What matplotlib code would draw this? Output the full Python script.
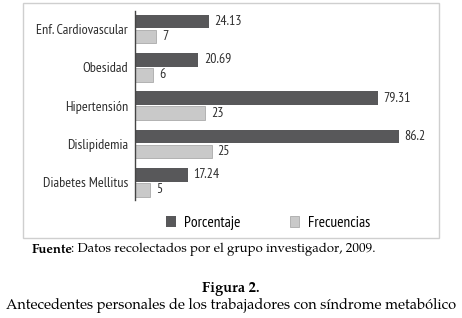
import numpy as np
import matplotlib
matplotlib.use("Agg")
import matplotlib.pyplot as plt
from matplotlib.patches import Rectangle

# Datos
categorias = ["Enf. Cardiovascular", "Obesidad", "Hipertensión", "Dislipidemia", "Diabetes Mellitus"]
porcentaje = [24.13, 20.69, 79.31, 86.2, 17.24]
frecuencias = [7, 6, 23, 25, 5]
etiq_porc = ["24.13", "20.69", "79.31", "86.2", "17.24"]
etiq_frec = ["7", "6", "23", "25", "5"]

W, H = 462, 318
sans = ["PT Sans Narrow", "Fira Sans Condensed", "DejaVu Sans"]
serif = ["TeX Gyre Pagella", "P052", "URW Palladio L", "Palatino Linotype", "DejaVu Serif"]
c_dark = "#58585a"
c_light = "#c9c9c9"
c_txt = "#2e2e2e"

fig = plt.figure(figsize=(W / 100, H / 100), dpi=100)

# marco gris alrededor del grafico
fig.add_artist(Rectangle((23 / W, 1 - 238 / H), (439 - 23) / W, (238 - 3) / H,
                         transform=fig.transFigure, fill=False, ec="#cfcfcf", lw=1))

ax = fig.add_axes([135 / W, 1 - 200 / H, 306 / W, 189 / H])
y = np.arange(len(categorias))
h = 0.36
b1 = ax.barh(y - 0.195, porcentaje, height=h, color=c_dark, label="Porcentaje")
b2 = ax.barh(y + 0.195, frecuencias, height=h, color=c_light, ec="#aaaaaa", lw=0.6,
             label="Frecuencias")
ax.bar_label(b1, labels=etiq_porc, padding=4, fontsize=10, family=sans, color=c_txt)
ax.bar_label(b2, labels=etiq_frec, padding=4, fontsize=10, family=sans, color=c_txt)

ax.set_xlim(0, 100)
ax.set_ylim(4.46, -0.47)
ax.set_yticks(y)
ax.set_yticklabels(categorias, fontsize=10.2, family=sans, color=c_txt)
ax.tick_params(axis="y", length=0, pad=5)
ax.set_xticks([])
for s in ["top", "right", "bottom"]:
    ax.spines[s].set_visible(False)
ax.spines["left"].set_color("#444444")
ax.spines["left"].set_linewidth(1)

fig.legend(handles=[b1, b2], loc="center", bbox_to_anchor=(268 / W, 1 - 223 / H),
           ncol=2, frameon=False, handlelength=0.65, handleheight=0.65,
           columnspacing=3.2, handletextpad=0.55, prop={"family": sans, "size": 11})

# textos de pie
t1 = fig.text(32 / W, 1 - 250 / H, "Fuente", family=serif, weight="bold",
              fontsize=9.5, va="center", ha="left")
ax.annotate(": Datos recolectados por el grupo investigador, 2009.", xy=(1, 0),
            xycoords=t1, xytext=(-2, 0), textcoords="offset pixels",
            va="bottom", ha="left", family=serif, fontsize=9.5,
            annotation_clip=False)
fig.text(0.5, 1 - 289 / H, "Figura 2.", family=serif, weight="bold", fontsize=10.5,
         ha="center", va="center")
fig.text(0.5, 1 - 306 / H, "Antecedentes personales de los trabajadores con síndrome metabólico",
         family=serif, fontsize=10.5, ha="center", va="center")

fig.savefig("out.png", dpi=100)
